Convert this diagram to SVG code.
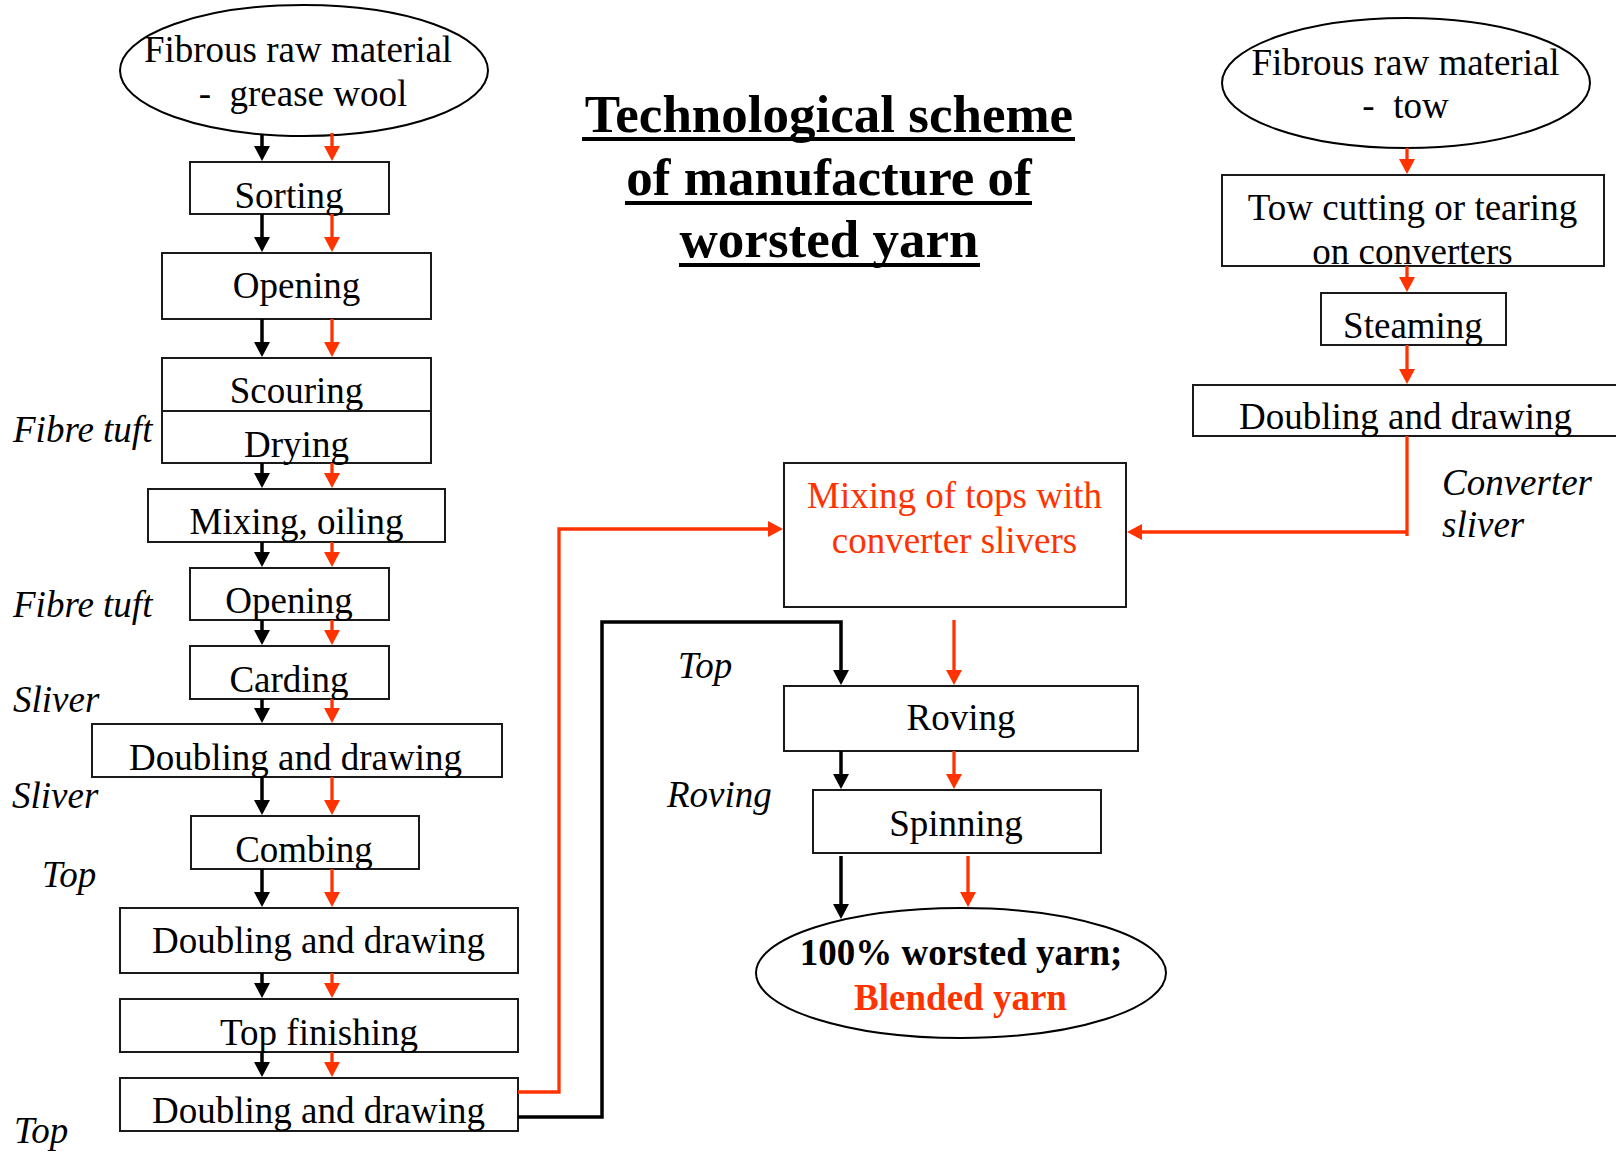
<svg xmlns="http://www.w3.org/2000/svg" width="1616" height="1151" viewBox="0 0 1616 1151">
<style>
  .bx { fill: #fff; stroke: #1a1a1a; stroke-width: 2; }
  .el { fill: #fff; stroke: #000; stroke-width: 2; }
  .t { font-family: "Liberation Serif", "Times New Roman", serif; font-size: 37px; fill: #000; text-anchor: middle; white-space: pre; }
  .tr { fill: #FF3300; }
  .b { font-weight: bold; }
  .lab { font-family: "Liberation Serif", "Times New Roman", serif; font-size: 37px; font-style: italic; fill: #000; }
  .title { font-family: "Liberation Serif", "Times New Roman", serif; font-size: 53px; font-weight: bold; fill: #000; text-anchor: middle; }
  .ul { stroke: #000; stroke-width: 4; }
  .ck { fill: none; stroke: #000; stroke-width: 3.5; marker-end: url(#ah-k); }
  .cr { fill: none; stroke: #FF3300; stroke-width: 3.3; marker-end: url(#ah-r); }
  .crl { fill: none; stroke: #FF3300; stroke-width: 3.3; }
</style>
<defs>
  <marker id="ah-k" markerUnits="userSpaceOnUse" markerWidth="15" markerHeight="16" refX="11" refY="8" orient="auto">
    <path d="M0,0 L15,8 L0,16 z" fill="#000"/>
  </marker>
  <marker id="ah-r" markerUnits="userSpaceOnUse" markerWidth="15" markerHeight="16" refX="11" refY="8" orient="auto">
    <path d="M0,0 L15,8 L0,16 z" fill="#FF3300"/>
  </marker>
</defs>
<rect width="1616" height="1151" fill="#fff"/>

<g id="title">
  <text class="title" x="829" y="132">Technological scheme</text>
  <line class="ul" x1="582" y1="139" x2="1075" y2="139"/>
  <text class="title" x="829" y="195">of manufacture of</text>
  <line class="ul" x1="625" y1="203" x2="1032" y2="203"/>
  <text class="title" x="829" y="257">worsted yarn</text>
  <line class="ul" x1="679" y1="265" x2="980" y2="265"/>
</g>

<g id="raw-wool">
  <ellipse class="el" cx="304" cy="70.5" rx="184" ry="65.5"/>
  <text class="t" x="298" y="62">Fibrous raw material</text>
  <text class="t" x="303" y="106">-  grease wool</text>
</g>
<g id="sorting"><rect class="bx" x="190" y="162" width="199" height="52"/><text class="t" x="289" y="208">Sorting</text></g>
<g id="opening1"><rect class="bx" x="162" y="253" width="269" height="66"/><text class="t" x="296.5" y="298">Opening</text></g>
<g id="scouring"><rect class="bx" x="162" y="358" width="269" height="53"/><text class="t" x="296.5" y="403">Scouring</text></g>
<g id="drying"><rect class="bx" x="162" y="411" width="269" height="52"/><text class="t" x="296.5" y="457">Drying</text></g>
<g id="mixing-oiling"><rect class="bx" x="148" y="489" width="297" height="53"/><text class="t" x="296.5" y="534">Mixing, oiling</text></g>
<g id="opening2"><rect class="bx" x="190" y="568" width="199" height="52"/><text class="t" x="289" y="613">Opening</text></g>
<g id="carding"><rect class="bx" x="190" y="646" width="199" height="53"/><text class="t" x="289" y="692">Carding</text></g>
<g id="doubling1"><rect class="bx" x="92" y="724" width="410" height="53"/><text class="t" x="295.5" y="770">Doubling and drawing</text></g>
<g id="combing"><rect class="bx" x="191" y="816" width="228" height="53"/><text class="t" x="304" y="862">Combing</text></g>
<g id="doubling2"><rect class="bx" x="120" y="908" width="398" height="65"/><text class="t" x="318.5" y="953">Doubling and drawing</text></g>
<g id="top-finishing"><rect class="bx" x="120" y="999" width="398" height="53"/><text class="t" x="319" y="1045">Top finishing</text></g>
<g id="doubling3"><rect class="bx" x="120" y="1078" width="398" height="53"/><text class="t" x="318.5" y="1123">Doubling and drawing</text></g>

<g id="raw-tow">
  <ellipse class="el" cx="1406" cy="83" rx="184" ry="65"/>
  <text class="t" x="1405.5" y="75">Fibrous raw material</text>
  <text class="t" x="1405.5" y="118">-  tow</text>
</g>
<g id="tow-cutting"><rect class="bx" x="1222" y="175" width="382" height="91"/><text class="t" x="1412.5" y="220">Tow cutting or tearing</text><text class="t" x="1412.5" y="264">on converters</text></g>
<g id="steaming"><rect class="bx" x="1321" y="293" width="185" height="52"/><text class="t" x="1413" y="338">Steaming</text></g>
<g id="doubling-tow"><rect class="bx" x="1193" y="385" width="432" height="51"/><text class="t" x="1405.5" y="429">Doubling and drawing</text></g>

<g id="mixing-tops"><rect class="bx" x="784" y="463" width="342" height="144"/><text class="t tr" x="954.5" y="508">Mixing of tops with</text><text class="t tr" x="954.5" y="553">converter slivers</text></g>
<g id="roving"><rect class="bx" x="784" y="686" width="354" height="65"/><text class="t" x="961" y="730">Roving</text></g>
<g id="spinning"><rect class="bx" x="813" y="790" width="288" height="63"/><text class="t" x="956" y="836">Spinning</text></g>
<g id="yarn">
  <ellipse class="el" cx="961" cy="973" rx="205" ry="65"/>
  <text class="t b" x="961" y="965">100% worsted yarn;</text>
  <text class="t b tr" x="960.5" y="1010">Blended yarn</text>
</g>

<g id="labels">
  <text class="lab" x="13" y="442">Fibre tuft</text>
  <text class="lab" x="13" y="617">Fibre tuft</text>
  <text class="lab" x="13" y="712">Sliver</text>
  <text class="lab" x="12" y="808">Sliver</text>
  <text class="lab" x="42" y="887">Top</text>
  <text class="lab" x="14" y="1143">Top</text>
  <text class="lab" x="678" y="678">Top</text>
  <text class="lab" x="667" y="807">Roving</text>
  <text class="lab" x="1442" y="495">Converter</text>
  <text class="lab" x="1442" y="537">sliver</text>
</g>

<g id="connectors">
  <path class="ck" d="M262,135 V157"/>
  <path class="cr" d="M332,133 V157"/>
  <path class="ck" d="M262,214 V248"/>
  <path class="cr" d="M332,214 V248"/>
  <path class="ck" d="M262,319 V353"/>
  <path class="cr" d="M332,319 V353"/>
  <path class="ck" d="M262,463 V484"/>
  <path class="cr" d="M332,463 V484"/>
  <path class="ck" d="M262,542 V563"/>
  <path class="cr" d="M332,542 V563"/>
  <path class="ck" d="M262,620 V641"/>
  <path class="cr" d="M332,620 V641"/>
  <path class="ck" d="M262,699 V719"/>
  <path class="cr" d="M332,699 V719"/>
  <path class="ck" d="M262,777 V811"/>
  <path class="cr" d="M332,777 V811"/>
  <path class="ck" d="M262,869 V903"/>
  <path class="cr" d="M332,869 V903"/>
  <path class="ck" d="M262,973 V994"/>
  <path class="cr" d="M332,973 V994"/>
  <path class="ck" d="M262,1052 V1073"/>
  <path class="cr" d="M332,1052 V1073"/>

  <path class="cr" d="M1407,148 V170"/>
  <path class="cr" d="M1407,266 V288"/>
  <path class="cr" d="M1407,345 V380"/>
  <path class="crl" d="M1407,436 V536"/>
  <path class="cr" d="M1407,532 H1131"/>

  <path class="cr" d="M518,1092 H559 V529 H779"/>
  <path class="ck" d="M518,1117 H602 V622 H841 V681"/>
  <path class="cr" d="M954,620 V681"/>

  <path class="ck" d="M841,751 V785"/>
  <path class="cr" d="M954,751 V785"/>
  <path class="ck" d="M841,856 V915"/>
  <path class="cr" d="M968,856 V903"/>
</g>
</svg>
